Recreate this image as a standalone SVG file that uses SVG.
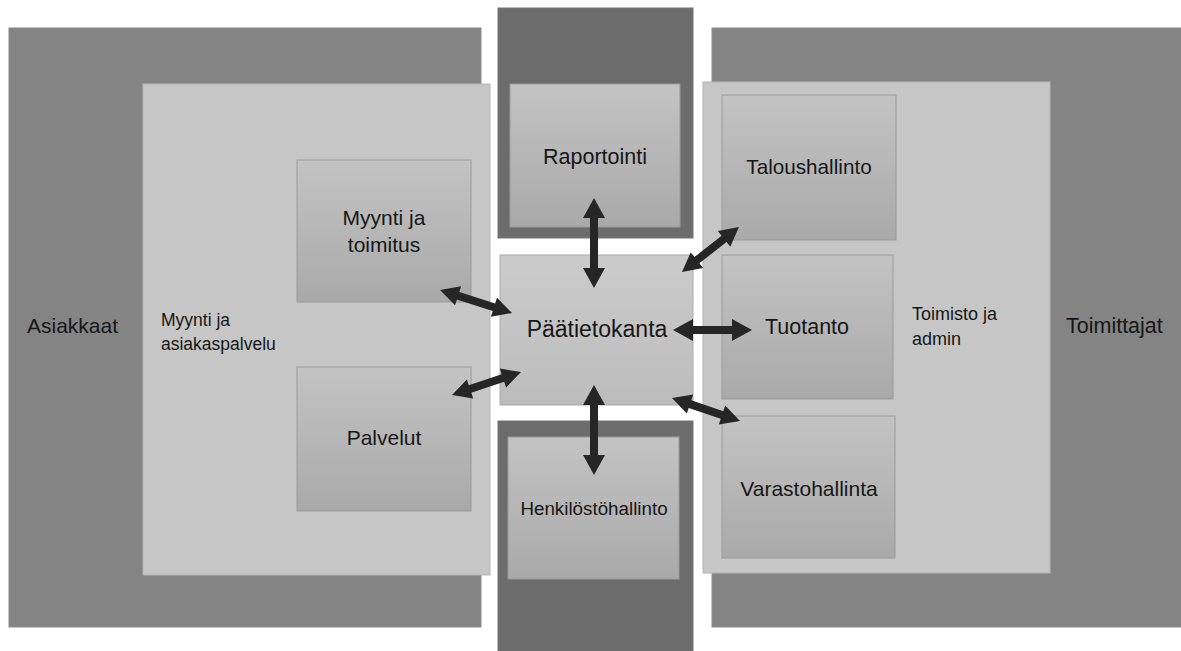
<svg xmlns="http://www.w3.org/2000/svg" width="1181" height="651" viewBox="0 0 1181 651">
<defs>
<linearGradient id="boxg" x1="0" y1="0" x2="0" y2="1">
<stop offset="0" stop-color="#c3c3c3"/>
<stop offset="1" stop-color="#a9a9a9"/>
</linearGradient>
<linearGradient id="hubg" x1="0" y1="0" x2="0" y2="1">
<stop offset="0" stop-color="#cbcbcb"/>
<stop offset="1" stop-color="#bcbcbc"/>
</linearGradient>
</defs>
<style>
.outer{fill:#848484;stroke:#8c8c8c;stroke-width:1}
.outerd{fill:#6c6c6c;stroke:#747474;stroke-width:1}
.inner{fill:#c6c6c6;stroke:#b4b4b4;stroke-width:1}
.box{fill:url(#boxg);stroke:#999999;stroke-width:1}
.hub{fill:url(#hubg);stroke:#aaaaaa;stroke-width:1}
.t{font-family:"Liberation Sans",Arial,sans-serif;fill:#161616;text-anchor:middle}
.tl{font-family:"Liberation Sans",Arial,sans-serif;fill:#161616}
.a{fill:#262626}
</style>
<rect width="1181" height="651" fill="#ffffff"/>

<g id="asiakkaat">
<rect class="outer" x="9" y="28" width="472" height="599"/>
<text class="tl" x="27" y="333" font-size="21">Asiakkaat</text>
</g>
<g id="myynti-asiakaspalvelu">
<rect class="inner" x="143" y="84" width="347" height="491"/>
<text class="tl" x="161" y="326" font-size="17.5">Myynti ja</text>
<text class="tl" x="161" y="350" font-size="17.5">asiakaspalvelu</text>
</g>
<g id="myynti-toimitus">
<rect class="box" x="297" y="160" width="174" height="142"/>
<text class="t" x="384" y="225" font-size="21">Myynti ja</text>
<text class="t" x="384" y="252" font-size="21">toimitus</text>
</g>
<g id="palvelut">
<rect class="box" x="297" y="367" width="174" height="144"/>
<text class="t" x="384" y="445" font-size="21">Palvelut</text>
</g>

<g id="raportointi">
<rect class="outerd" x="498" y="8" width="195" height="230"/>
<rect class="box" x="510" y="84" width="170" height="143"/>
<text class="t" x="595" y="164" font-size="21.5">Raportointi</text>
</g>
<g id="paatietokanta">
<rect class="hub" x="500" y="255" width="193" height="150"/>
<text class="t" x="597" y="337" font-size="23">Päätietokanta</text>
</g>
<g id="henkilostohallinto">
<rect class="outerd" x="498" y="421" width="195" height="235"/>
<rect class="box" x="508" y="437" width="171" height="142"/>
<text class="t" x="594" y="515" font-size="18.8">Henkilöstöhallinto</text>
</g>

<g id="toimittajat">
<rect class="outer" x="712" y="28" width="475" height="599"/>
<text class="tl" x="1066" y="333" font-size="21.5">Toimittajat</text>
</g>
<g id="toimisto-admin">
<rect class="inner" x="703" y="82" width="347" height="491"/>
<text class="tl" x="912" y="320" font-size="18">Toimisto ja</text>
<text class="tl" x="912" y="345" font-size="18">admin</text>
</g>
<g id="taloushallinto">
<rect class="box" x="722" y="95" width="174" height="145"/>
<text class="t" x="809" y="174" font-size="20.7">Taloushallinto</text>
</g>
<g id="tuotanto">
<rect class="box" x="722" y="255" width="171" height="144"/>
<text class="t" x="807" y="334" font-size="21.5">Tuotanto</text>
</g>
<g id="varastohallinta">
<rect class="box" x="722" y="416" width="173" height="142"/>
<text class="t" x="809" y="496" font-size="21">Varastohallinta</text>
</g>

<g id="connectors" class="a">
<polygon transform="translate(594,198) rotate(90)" points="0,0 20,-11 20,-4 70,-4 70,-11 90,0 70,11 70,4 20,4 20,11"/>
<polygon transform="translate(594,385) rotate(90)" points="0,0 20,-11 20,-4 70,-4 70,-11 90,0 70,11 70,4 20,4 20,11"/>
<polygon transform="translate(673,330)" points="0,0 20,-11 20,-4 59,-4 59,-11 79,0 59,11 59,4 20,4 20,11"/>
<polygon transform="translate(682,272) rotate(-38.3)" points="0,0 19,-10 19,-4 53.6,-4 53.6,-10 72.6,0 53.6,10 53.6,4 19,4 19,10"/>
<polygon transform="translate(672,398) rotate(18.7)" points="0,0 19,-10 19,-4 52.8,-4 52.8,-10 71.8,0 52.8,10 52.8,4 19,4 19,10"/>
<polygon transform="translate(440,290) rotate(17.7)" points="0,0 19,-10 19,-4 56.6,-4 56.6,-10 75.6,0 56.6,10 56.6,4 19,4 19,10"/>
<polygon transform="translate(452,395) rotate(-18.4)" points="0,0 19,-10 19,-4 53.7,-4 53.7,-10 72.7,0 53.7,10 53.7,4 19,4 19,10"/>
</g>
</svg>
